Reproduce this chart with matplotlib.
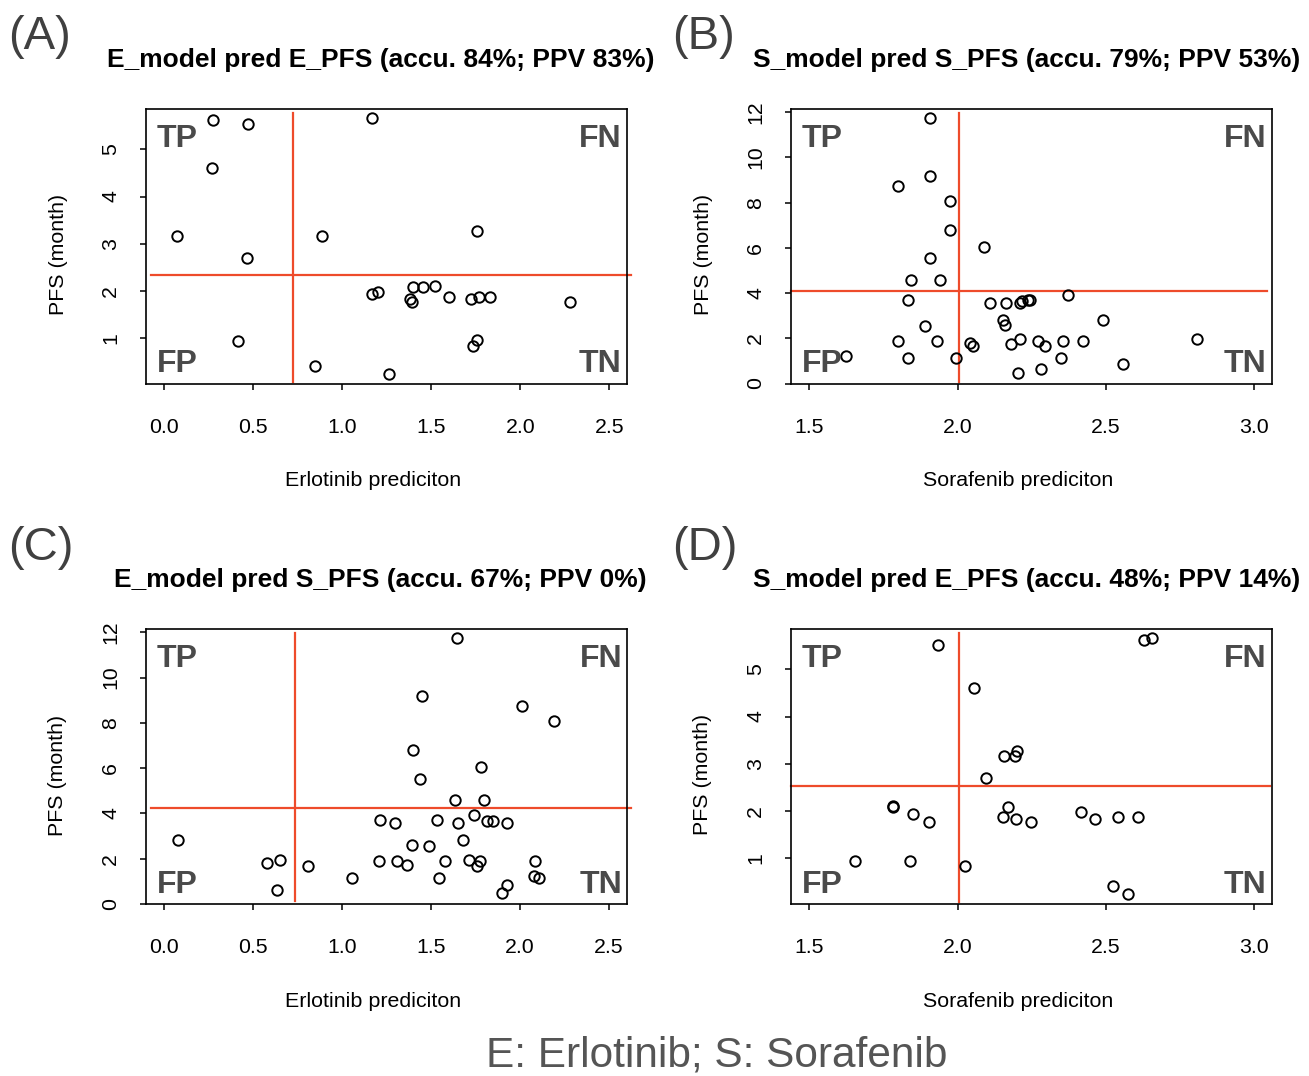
import matplotlib
matplotlib.use("Agg")
import matplotlib.pyplot as plt

plt.rcParams['font.family'] = ['Liberation Sans', 'DejaVu Sans']

# ---------------- data ----------------
# Panel A: E_model predicts E_PFS
a_x = [0.276, 0.472, 0.266, 0.070, 0.463, 0.416, 1.168, 0.885, 1.757, 1.166, 1.198,
       1.400, 1.451, 1.523, 1.382, 1.391, 1.597, 1.725, 1.766, 1.832, 2.282, 1.757,
       1.734, 0.848, 1.260]
a_y = [5.63, 5.53, 4.60, 3.165, 2.706, 0.95, 5.67, 3.165, 3.27, 1.93, 1.97,
       2.08, 2.08, 2.11, 1.83, 1.76, 1.87, 1.83, 1.87, 1.87, 1.76, 0.96,
       0.84, 0.42, 0.245]

# Panel B: S_model predicts S_PFS
b_x = [1.906, 1.906, 1.800, 1.974, 1.974, 2.090, 1.906, 1.844, 1.940, 1.833, 2.372,
       2.109, 2.165, 2.210, 2.217, 2.237, 2.243, 2.153, 2.159, 2.491, 1.890, 1.800,
       1.930, 2.041, 2.052, 2.210, 2.181, 2.272, 2.294, 2.356, 2.423, 2.807, 1.625,
       1.833, 1.996, 2.349, 2.558, 2.204, 2.282]
b_y = [11.76, 9.18, 8.75, 8.09, 6.78, 6.04, 5.53, 4.58, 4.58, 3.71, 3.93,
       3.56, 3.56, 3.56, 3.64, 3.68, 3.70, 2.83, 2.61, 2.83, 2.54, 1.88,
       1.88, 1.80, 1.66, 1.95, 1.73, 1.88, 1.66, 1.88, 1.88, 1.95, 1.22,
       1.14, 1.14, 1.14, 0.85, 0.48, 0.63]

# Panel C: E_model predicts S_PFS
c_x = [1.644, 1.448, 2.010, 2.188, 1.400, 1.781, 1.438, 1.633, 1.794, 1.213, 1.297,
       1.532, 1.652, 1.738, 1.813, 1.850, 1.926, 0.079, 1.391, 1.485, 1.680, 0.576,
       0.651, 0.810, 1.204, 1.307, 1.363, 1.579, 1.710, 1.757, 1.776, 2.085, 0.632,
       1.054, 1.541, 2.075, 2.104, 1.926, 1.898]
c_y = [11.73, 9.17, 8.72, 8.08, 6.78, 6.04, 5.53, 4.58, 4.58, 3.71, 3.56,
       3.71, 3.56, 3.93, 3.64, 3.64, 3.56, 2.83, 2.61, 2.54, 2.83, 1.80,
       1.95, 1.66, 1.88, 1.88, 1.73, 1.88, 1.95, 1.66, 1.88, 1.88, 0.63,
       1.14, 1.14, 1.22, 1.14, 0.85, 0.48]

# Panel D: S_model predicts E_PFS
d_x = [1.935, 2.630, 2.655, 2.057, 2.158, 2.194, 2.200, 2.096, 1.783, 1.783, 1.851,
       1.902, 2.171, 2.153, 2.198, 2.248, 2.418, 2.463, 2.541, 2.610, 1.653, 1.839,
       2.024, 2.526, 2.574]
d_y = [5.51, 5.62, 5.66, 4.60, 3.165, 3.165, 3.27, 2.706, 2.11, 2.08, 1.93,
       1.76, 2.08, 1.87, 1.83, 1.76, 1.97, 1.83, 1.87, 1.87, 0.95, 0.95,
       0.84, 0.42, 0.245]

# cut-off lines (x threshold, y threshold)
a_cut = [0.722, 2.34]
b_cut = [2.005, 4.08]
c_cut = [0.737, 4.22]
d_cut = [2.005, 2.54]

titles = ["E_model pred E_PFS (accu. 84%; PPV 83%)",
          "S_model pred S_PFS (accu. 79%; PPV 53%)",
          "E_model pred S_PFS (accu. 67%; PPV 0%)",
          "S_model pred E_PFS (accu. 48%; PPV 14%)"]
panel_tags = ["(A)", "(B)", "(C)", "(D)"]
xlabels = ["Erlotinib prediciton", "Sorafenib prediciton",
           "Erlotinib prediciton", "Sorafenib prediciton"]
ylabel = "PFS (month)"
e_xticks = [0.0, 0.5, 1.0, 1.5, 2.0, 2.5]
s_xticks = [1.5, 2.0, 2.5, 3.0]
small_yticks = [1, 2, 3, 4, 5]
big_yticks = [0, 2, 4, 6, 8, 10, 12]
quad_labels = ["TP", "FN", "FP", "TN"]
footer = "E: Erlotinib; S: Sorafenib"

# ---------------- figure ----------------
W, H = 1309, 1076
fig = plt.figure(figsize=(W / 100, H / 100), dpi=100)

RED = '#EE4B2B'
GRAY = '#4a4a4a'

panels = [
    dict(pos=[146, 109, 627, 384], x=a_x, y=a_y, cut=a_cut, xt=e_xticks, yt=small_yticks,
         xlim=(-0.103, 2.60), ylim=(0.033, 5.853), hx=(0.0098, 1.0076), vy=(0.008, 0.984),
         title_xy=(381, 60), tag_xy=(8, 37), xfmt='%.1f'),
    dict(pos=[791, 109, 1271.7, 384], x=b_x, y=b_y, cut=b_cut, xt=s_xticks, yt=big_yticks,
         xlim=(1.438, 3.060), ylim=(-0.02, 12.14), hx=(0.0, 0.990), vy=(0.008, 0.984),
         title_xy=(1027, 60), tag_xy=(672, 37), xfmt='%.1f'),
    dict(pos=[146, 629.3, 627.3, 904.3], x=c_x, y=c_y, cut=c_cut, xt=e_xticks, yt=big_yticks,
         xlim=(-0.103, 2.602), ylim=(-0.02, 12.13), hx=(0.0097, 1.0068), vy=(0.012, 0.985),
         title_xy=(380, 580), tag_xy=(8, 548), xfmt='%.1f'),
    dict(pos=[791, 629, 1272, 904.3], x=d_x, y=d_y, cut=d_cut, xt=s_xticks, yt=small_yticks,
         xlim=(1.438, 3.061), ylim=(0.027, 5.853), hx=(0.0, 0.996), vy=(0.008, 0.984),
         title_xy=(1027, 580), tag_xy=(672, 548), xfmt='%.1f'),
]

for i, p in enumerate(panels):
    l, t, r, b = p['pos']
    ax = fig.add_axes([l / W, 1 - b / H, (r - l) / W, (b - t) / H])
    ax.plot(p['x'], p['y'], linestyle='none', marker='o', markersize=7.5,
            markerfacecolor='none', markeredgecolor='black', markeredgewidth=1.4,
            zorder=3)
    ax.axvline(p['cut'][0], ymin=p['vy'][0], ymax=p['vy'][1], color=RED, lw=1.6, zorder=2)
    ax.axhline(p['cut'][1], xmin=p['hx'][0], xmax=p['hx'][1], color=RED, lw=1.6,
               zorder=2, clip_on=False)
    ax.set_xlim(*p['xlim'])
    ax.set_ylim(*p['ylim'])
    ax.set_xticks(p['xt'])
    ax.set_xticklabels([p['xfmt'] % v for v in p['xt']])
    ax.set_yticks(p['yt'])
    ax.set_yticklabels([str(v) for v in p['yt']], rotation=90, va='center')
    for s in ax.spines.values():
        s.set_linewidth(1.2)
    ax.tick_params(axis='both', direction='out', length=4.5, width=1.1,
                   labelsize=15.3, colors='black')
    ax.tick_params(axis='x', pad=20)
    ax.tick_params(axis='y', pad=14)

    ax.set_xlabel(xlabels[i], fontsize=15.4)
    ax.xaxis.set_label_coords((373 - 146) / 481, -97 / 275)
    ax.xaxis.label.set_va('center')
    ax.set_ylabel(ylabel, fontsize=15.4)
    ax.yaxis.set_label_coords(-88 / 481, 0.47)
    ax.yaxis.label.set_va('center')

    # quadrant labels
    qkw = dict(transform=ax.transAxes, fontsize=23, fontweight='bold', color=GRAY,
               va='baseline')
    ax.text(0.022, 0.863, quad_labels[0], ha='left', **qkw)
    ax.text(0.989, 0.863, quad_labels[1], ha='right', **qkw)
    ax.text(0.022, 0.0425, quad_labels[2], ha='left', **qkw)
    ax.text(0.989, 0.0425, quad_labels[3], ha='right', **qkw)

    tx, ty = p['title_xy']
    fig.text(tx / W, 1 - ty / H, titles[i], ha='center', va='center',
             fontsize=19, fontweight='bold')
    gx, gy = p['tag_xy']
    fig.text(gx / W, 1 - gy / H, panel_tags[i], ha='left', va='center',
             fontsize=34, color='#404040')

fig.text(717 / W, 1 - 1055 / H, footer, ha='center', va='center',
         fontsize=30.5, color='#555555')

fig.savefig('out.png', dpi=100, facecolor='white')
